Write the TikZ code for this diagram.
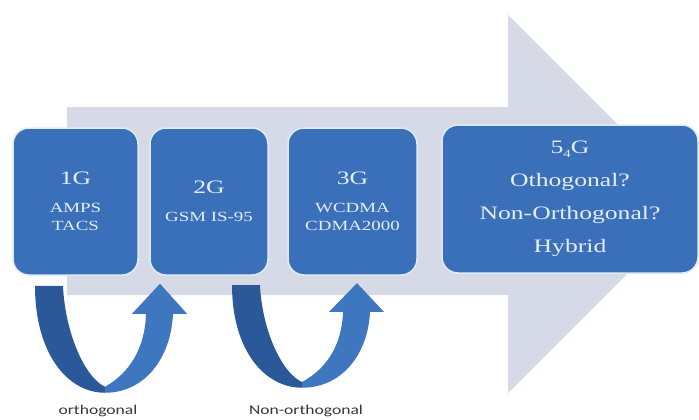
\documentclass[tikz,border=0pt]{standalone}
\usepackage{fontspec}
\setmainfont{Liberation Serif}
\newfontfamily\boxfont[FakeStretch=1.35]{Liberation Serif}
\newfontfamily\labfont[FakeStretch=1.3]{Carlito}
\usetikzlibrary{calc,positioning}
\definecolor{gblue}{RGB}{58,112,185}
\definecolor{gedge}{RGB}{222,234,247}
\definecolor{gtext}{RGB}{228,237,248}
\definecolor{shaftgray}{RGB}{214,218,231}
\definecolor{udark}{RGB}{42,88,152}
\definecolor{ulight}{RGB}{62,118,192}
\definecolor{labgray}{RGB}{55,55,60}

\begin{document}
\begin{tikzpicture}[x=1pt, y=-1pt,
    gbox/.style={rectangle, rounded corners=16pt, fill=gblue, draw=gedge, line width=1.5pt,
      text=gtext, align=center, inner sep=0pt, minimum height=147pt,
      font=\boxfont\fontsize{14}{18}\selectfont},
    big/.style={font=\boxfont\fontsize{19}{33}\selectfont},
    lab/.style={font=\labfont\fontsize{13.5}{15}\selectfont, text=labgray, anchor=base},
    uturn/.pic={
      % dark left half of the ribbon
      \fill[udark] (-70,-107) -- (-42,-107) .. controls (-40,-60) and (-20,-15) .. (0,-6)
        -- (0,0) .. controls (-38,0) and (-70,-40) .. (-70,-107) -- cycle;
      % light right half with the head
      \fill[ulight] (0,-6) .. controls (25,-20) and (40,-45) .. (41,-79) -- (27,-79)
        -- (55,-109) -- (82,-79) -- (68,-79) .. controls (66,-35) and (40,0) .. (0,0) -- cycle;
    }
]
    \useasboundingbox (0,0) rectangle (699,420);
    \fill[white] (0,0) rectangle (699,420);

    % big background arrow
    \fill[shaftgray] (67,107) -- (508,107) -- (508,15) -- (697,204) -- (508,393)
      -- (508,295) -- (67,295) -- cycle;

    \node[gbox, minimum width=125pt] (b1) at (75.5,201.5)
      {{\fontsize{19}{22}\selectfont 1G}\\[10pt]AMPS\\TACS};
    \node[gbox, minimum width=118pt] (b2) at (209,201.5)
      {{\fontsize{19}{22}\selectfont 2G}\\[10pt]GSM IS-95};
    \node[gbox, minimum width=129pt] (b3) at (352.5,201.5)
      {{\fontsize{19}{22}\selectfont 3G}\\[10pt]WCDMA\\CDMA2000};
    \node[gbox, big, minimum width=256pt, minimum height=148pt] (b4) at (570,199)
      {5\raisebox{-4pt}{\fontsize{11}{11}\selectfont 4}G\\Othogonal?\\Non-Orthogonal?\\Hybrid};

    \pic at ($(b1.south)+(29.5,117)$) {uturn};
    \pic[yscale=0.96] at ($(b2.south)+(93,112)$) {uturn};

    \node[lab] (lo) at (98,414) {orthogonal};
    \node[lab] (lno) at (306,414) {Non-orthogonal};
\end{tikzpicture}
\end{document}
